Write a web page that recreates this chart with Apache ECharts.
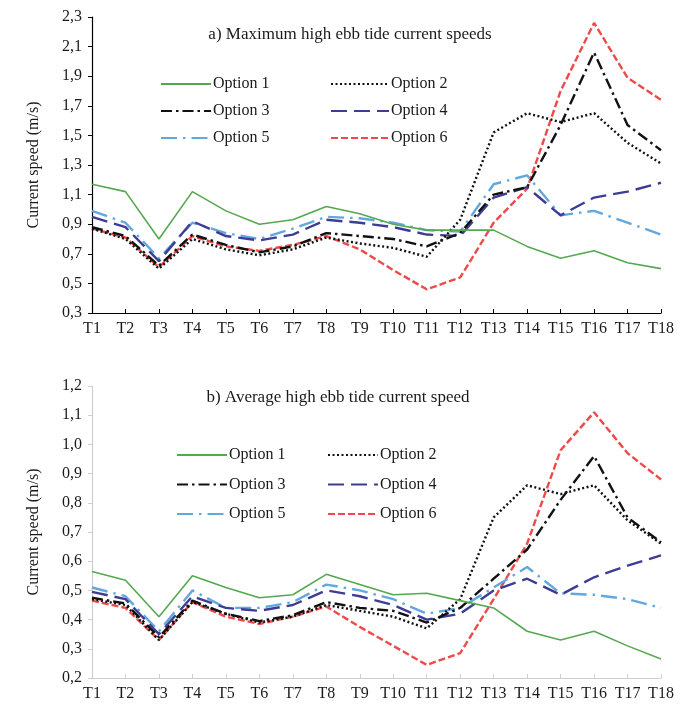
<!DOCTYPE html>
<html>
<head>
<meta charset="utf-8">
<script src="https://cdn.jsdelivr.net/npm/echarts@6/dist/echarts.min.js"></script>
<style>
  html, body { margin: 0; padding: 0; background: #fff; }
  #chart { width: 688px; height: 709px; }
</style>
</head>
<body>
<div id="chart"></div>
<script>
// Stations along the channel
const stations = ['T1','T2','T3','T4','T5','T6','T7','T8','T9','T10','T11','T12','T13','T14','T15','T16','T17','T18'];
const optionNames = ['Option 1','Option 2','Option 3','Option 4','Option 5','Option 6'];

// a) Maximum high ebb tide current speeds (m/s)
const maxOpt1 = [1.17,1.12,0.80,1.12,0.99,0.90,0.93,1.02,0.97,0.90,0.86,0.86,0.86,0.75,0.67,0.72,0.64,0.60];
const maxOpt2 = [0.87,0.80,0.60,0.80,0.73,0.69,0.73,0.81,0.77,0.74,0.68,0.93,1.52,1.65,1.59,1.65,1.45,1.31];
const maxOpt3 = [0.88,0.82,0.62,0.83,0.76,0.71,0.75,0.84,0.82,0.80,0.75,0.84,1.10,1.15,1.57,2.06,1.57,1.40];
const maxOpt4 = [0.95,0.88,0.65,0.92,0.82,0.79,0.83,0.93,0.91,0.88,0.83,0.82,1.08,1.15,0.96,1.08,1.12,1.18];
const maxOpt5 = [0.99,0.91,0.67,0.91,0.84,0.80,0.87,0.95,0.94,0.91,0.86,0.85,1.17,1.23,0.96,0.99,0.91,0.83];
const maxOpt6 = [0.87,0.81,0.61,0.82,0.75,0.72,0.76,0.82,0.73,0.59,0.46,0.54,0.91,1.14,1.80,2.26,1.89,1.74];

// b) Average high ebb tide current speed (m/s)
const avgOpt1 = [0.565,0.535,0.41,0.55,0.51,0.475,0.485,0.555,0.52,0.485,0.49,0.465,0.44,0.36,0.33,0.36,0.31,0.265];
const avgOpt2 = [0.47,0.45,0.33,0.46,0.42,0.39,0.41,0.45,0.43,0.41,0.37,0.47,0.75,0.86,0.83,0.86,0.74,0.66];
const avgOpt3 = [0.475,0.455,0.34,0.465,0.42,0.395,0.415,0.46,0.44,0.43,0.39,0.44,0.54,0.64,0.81,0.96,0.75,0.665];
const avgOpt4 = [0.495,0.47,0.35,0.48,0.44,0.43,0.45,0.50,0.48,0.45,0.40,0.42,0.50,0.54,0.485,0.545,0.585,0.62];
const avgOpt5 = [0.51,0.48,0.36,0.50,0.44,0.44,0.46,0.52,0.50,0.47,0.42,0.44,0.51,0.58,0.49,0.485,0.47,0.44];
const avgOpt6 = [0.465,0.44,0.33,0.46,0.41,0.385,0.41,0.445,0.375,0.31,0.245,0.285,0.47,0.66,0.98,1.11,0.97,0.88];

const maxSeries = [maxOpt1, maxOpt2, maxOpt3, maxOpt4, maxOpt5, maxOpt6];
const avgSeries = [avgOpt1, avgOpt2, avgOpt3, avgOpt4, avgOpt5, avgOpt6];

// Line styles per option
const styles = [
  { color: '#55a84f', width: 1.6, type: 'solid' },
  { color: '#111111', width: 2.4, type: [2, 2.5] },
  { color: '#111111', width: 2.4, type: [11, 4, 2.5, 4] },
  { color: '#3d3d95', width: 2.4, type: [16, 7] },
  { color: '#62a8dc', width: 2.4, type: [16, 6, 2.5, 6] },
  { color: '#ee4a4a', width: 2.4, type: [7, 3] }
];

const FONT = 'Liberation Serif';
const TXT = '#1a1a1a';
const fmt = v => v.toFixed(1).replace('.', ',');

function makeSeries(dataSets, idx) {
  return dataSets.map((d, i) => ({
    name: optionNames[i],
    type: 'line',
    xAxisIndex: idx,
    yAxisIndex: idx,
    data: d,
    symbol: 'none',
    smooth: false,
    lineStyle: { color: styles[i].color, width: styles[i].width, type: styles[i].type },
    itemStyle: { color: styles[i].color },
    z: 10 - i
  }));
}

function xAxis(idx, axisColor) {
  return {
    type: 'category',
    gridIndex: idx,
    data: stations,
    boundaryGap: false,
    axisLine: { lineStyle: { color: axisColor, width: 1.2 } },
    axisTick: { inside: true, length: 4, lineStyle: { color: axisColor } },
    axisLabel: { interval: 0, margin: 8, color: TXT, fontFamily: FONT, fontSize: 16 }
  };
}

function yAxis(idx, min, max, step, axisColor) {
  return {
    type: 'value',
    gridIndex: idx,
    min: min, max: max, interval: step,
    name: 'Current speed (m/s)',
    nameLocation: 'middle',
    nameRotate: 90,
    nameGap: 50,
    nameTextStyle: { color: TXT, fontFamily: FONT, fontSize: 16 },
    axisLine: { show: true, lineStyle: { color: axisColor, width: 1.2 } },
    axisTick: { show: true, length: 4, lineStyle: { color: axisColor } },
    splitLine: { show: false },
    axisLabel: { color: TXT, fontFamily: FONT, fontSize: 16, margin: 10, formatter: fmt }
  };
}

// Legend keys show only the line sample (marker hidden)
function legend(names, left, top, itemWidth, gap) {
  return {
    data: names,
    orient: 'vertical',
    left: left, top: top,
    padding: 0,
    itemWidth: itemWidth,
    itemHeight: 14,
    itemGap: gap,
    itemStyle: { opacity: 0 },
    textStyle: { color: TXT, fontFamily: FONT, fontSize: 16, padding: [0, 0, 0, -3] }
  };
}

const chart = echarts.init(document.getElementById('chart'), null, { renderer: 'canvas' });
chart.setOption({
  backgroundColor: '#ffffff',
  animation: false,
  title: [
    { text: 'a) Maximum high ebb tide current speeds', left: 345, top: 21, textAlign: 'center',
      textStyle: { color: TXT, fontFamily: FONT, fontSize: 17, fontWeight: 'normal' } },
    { text: 'b) Average high ebb tide current speed', left: 333, top: 384, textAlign: 'center',
      textStyle: { color: TXT, fontFamily: FONT, fontSize: 17, fontWeight: 'normal' } }
  ],
  legend: [
    legend(['Option 1','Option 3','Option 5'], 160, 76, 50, 11),
    legend(['Option 2','Option 4','Option 6'], 330, 76, 58, 11),
    legend(['Option 1','Option 3','Option 5'], 176, 447, 50, 13.5),
    legend(['Option 2','Option 4','Option 6'], 327, 447, 50, 13.5)
  ],
  grid: [
    { left: 92, right: 27, top: 17, height: 296 },
    { left: 92, right: 27, top: 386, height: 292 }
  ],
  xAxis: [xAxis(0, '#000000'), xAxis(1, '#cfcfcf')],
  yAxis: [yAxis(0, 0.3, 2.3, 0.2, '#000000'), yAxis(1, 0.2, 1.2, 0.1, '#cfcfcf')],
  series: makeSeries(maxSeries, 0).concat(makeSeries(avgSeries, 1))
});
</script>
</body>
</html>
